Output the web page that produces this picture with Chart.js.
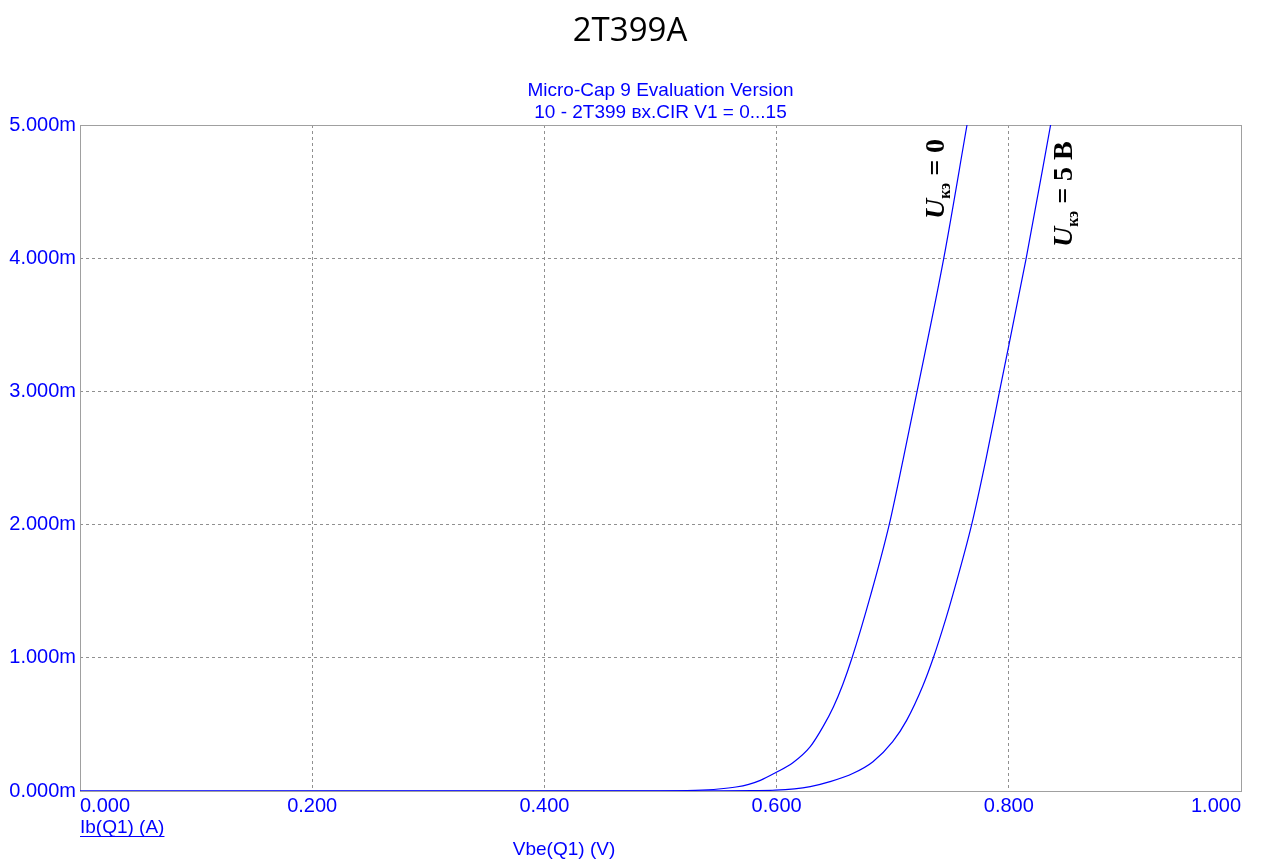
<!DOCTYPE html>
<html>
<head>
<meta charset="utf-8">
<script src="https://cdn.jsdelivr.net/npm/chart.js@4"></script>
<style>
  html, body { margin: 0; padding: 0; background: #fff; }
  #wrap { width: 1267px; height: 861px; position: relative; }
</style>
</head>
<body>
<div id="wrap"><canvas id="myChart" width="1267" height="861"></canvas></div>
<script>
// Uкэ = 0
var vbe0 = [0, 0.5, 0.53, 0.55, 0.565, 0.576, 0.586, 0.599, 0.614, 0.629, 0.640, 0.649, 0.657, 0.665, 0.681, 0.697, 0.709, 0.721, 0.744, 0.764];
var ib0  = [0, 0, 0.005, 0.015, 0.03, 0.05, 0.08, 0.137, 0.212, 0.333, 0.483, 0.633, 0.80, 1.0, 1.47, 2.0, 2.49, 3.0, 4.0, 5.0];
// Uкэ = 5 B
var vbe5 = [0, 0.55, 0.58, 0.599, 0.629, 0.646, 0.666, 0.683, 0.700, 0.712, 0.726, 0.735, 0.746, 0.752, 0.768, 0.781, 0.792, 0.815, 0.836];
var ib5  = [0, 0.001, 0.003, 0.006, 0.033, 0.07, 0.133, 0.22, 0.37, 0.53, 0.79, 1.0, 1.30, 1.48, 2.0, 2.52, 3.0, 4.0, 5.0];

var xTicks = [0, 0.2, 0.4, 0.6, 0.8, 1.0];
var yTicks = [0, 1, 2, 3, 4, 5];

var BLUE = "#0000ff";
var FONT = "'Liberation Sans', Arial, sans-serif";

function pts(xs, ys) {
  return xs.map(function (x, i) { return { x: x, y: ys[i] }; });
}

// рамка графика + подписи
var decor = {
  id: "decor",
  beforeDatasetsDraw: function (chart) {
    var c = chart.ctx, a = chart.chartArea;
    c.save();
    c.strokeStyle = "#a0a0a0";
    c.lineWidth = 1;
    c.strokeRect(a.left + 0.5, a.top + 0.5, a.right - a.left, a.bottom - a.top);
    c.restore();
  },
  afterDraw: function (chart) {
    var c = chart.ctx, a = chart.chartArea;
    c.save();
    c.fillStyle = "#000";
    c.font = "33px 'Open Sans', sans-serif";
    c.textAlign = "center";
    c.textBaseline = "middle";
    c.fillText("2T399A", 630, 32);

    c.fillStyle = BLUE;
    c.font = "19px " + FONT;
    var mid = (a.left + a.right) / 2;
    c.fillText("Micro-Cap 9 Evaluation Version", mid, 91);
    c.fillText("10 - 2T399 вх.CIR V1 = 0...15", mid, 113);
    c.fillText("Vbe(Q1) (V)", 564, 850);

    c.textAlign = "left";
    c.fillText("Ib(Q1) (A)", a.left, 828);
    var w = c.measureText("Ib(Q1) (A)").width;
    c.fillRect(a.left, 836, w, 1);

    // подписи кривых (повёрнутые)
    drawLabel(c, 944, 219, " = 0");
    drawLabel(c, 1072, 247, " = 5 B");
    c.restore();
  }
};

function drawLabel(c, x, y, rest) {
  c.save();
  c.translate(x, y);
  c.rotate(-Math.PI / 2);
  c.fillStyle = "#000";
  c.textAlign = "left";
  c.textBaseline = "alphabetic";
  c.font = "italic bold 28px 'Liberation Serif', serif";
  c.fillText("U", 0, 0);
  var dx = c.measureText("U").width;
  c.font = "bold 16px 'Liberation Serif', serif";
  c.fillText("кэ", dx, 6);
  dx += c.measureText("кэ").width;
  c.font = "bold 28px 'Liberation Serif', serif";
  c.fillText(rest, dx, 0);
  c.restore();
}

var ctx = document.getElementById("myChart");
var myChart = new Chart(ctx, {
  type: "line",
  data: {
    datasets: [
      {
        label: "Uкэ = 0",
        data: pts(vbe0, ib0),
        borderColor: BLUE,
        borderWidth: 1.2,
        pointRadius: 0,
        cubicInterpolationMode: "monotone",
      },
      {
        label: "Uкэ = 5 B",
        data: pts(vbe5, ib5),
        borderColor: BLUE,
        borderWidth: 1.2,
        pointRadius: 0,
        cubicInterpolationMode: "monotone",
      },
    ],
  },
  options: {
    responsive: false,
    animation: false,
    layout: { padding: { top: 125, right: 26, left: 0, bottom: 0 } },
    plugins: { legend: { display: false }, tooltip: { enabled: false } },
    scales: {
      x: {
        type: "linear",
        min: 0,
        max: 1,
        afterBuildTicks: function (s) { s.ticks = xTicks.map(function (v) { return { value: v }; }); },
        afterFit: function (s) { s.height = 70; },
        ticks: {
          color: BLUE,
          font: { family: FONT, size: 20 },
          padding: 3,
          align: "inner",
          maxRotation: 0,
          callback: function (v) { return Number(v).toFixed(3); },
        },
        grid: {
          drawTicks: false,
          color: function (c) { return (c.index === 0 || c.index === xTicks.length - 1) ? "rgba(0,0,0,0)" : "#909090"; },
          lineWidth: 1,
        },
        border: { display: false, dash: [3, 3] },
      },
      y: {
        min: 0,
        max: 5,
        afterBuildTicks: function (s) { s.ticks = yTicks.map(function (v) { return { value: v }; }); },
        afterFit: function (s) { s.width = 80; },
        ticks: {
          color: BLUE,
          font: { family: FONT, size: 20 },
          padding: 4,
          callback: function (v) { return Number(v).toFixed(3) + "m"; },
        },
        grid: {
          drawTicks: false,
          color: function (c) { return (c.index === 0 || c.index === yTicks.length - 1) ? "rgba(0,0,0,0)" : "#909090"; },
          lineWidth: 1,
        },
        border: { display: false, dash: [3, 3] },
      },
    },
  },
  plugins: [decor],
});
</script>
</body>
</html>
